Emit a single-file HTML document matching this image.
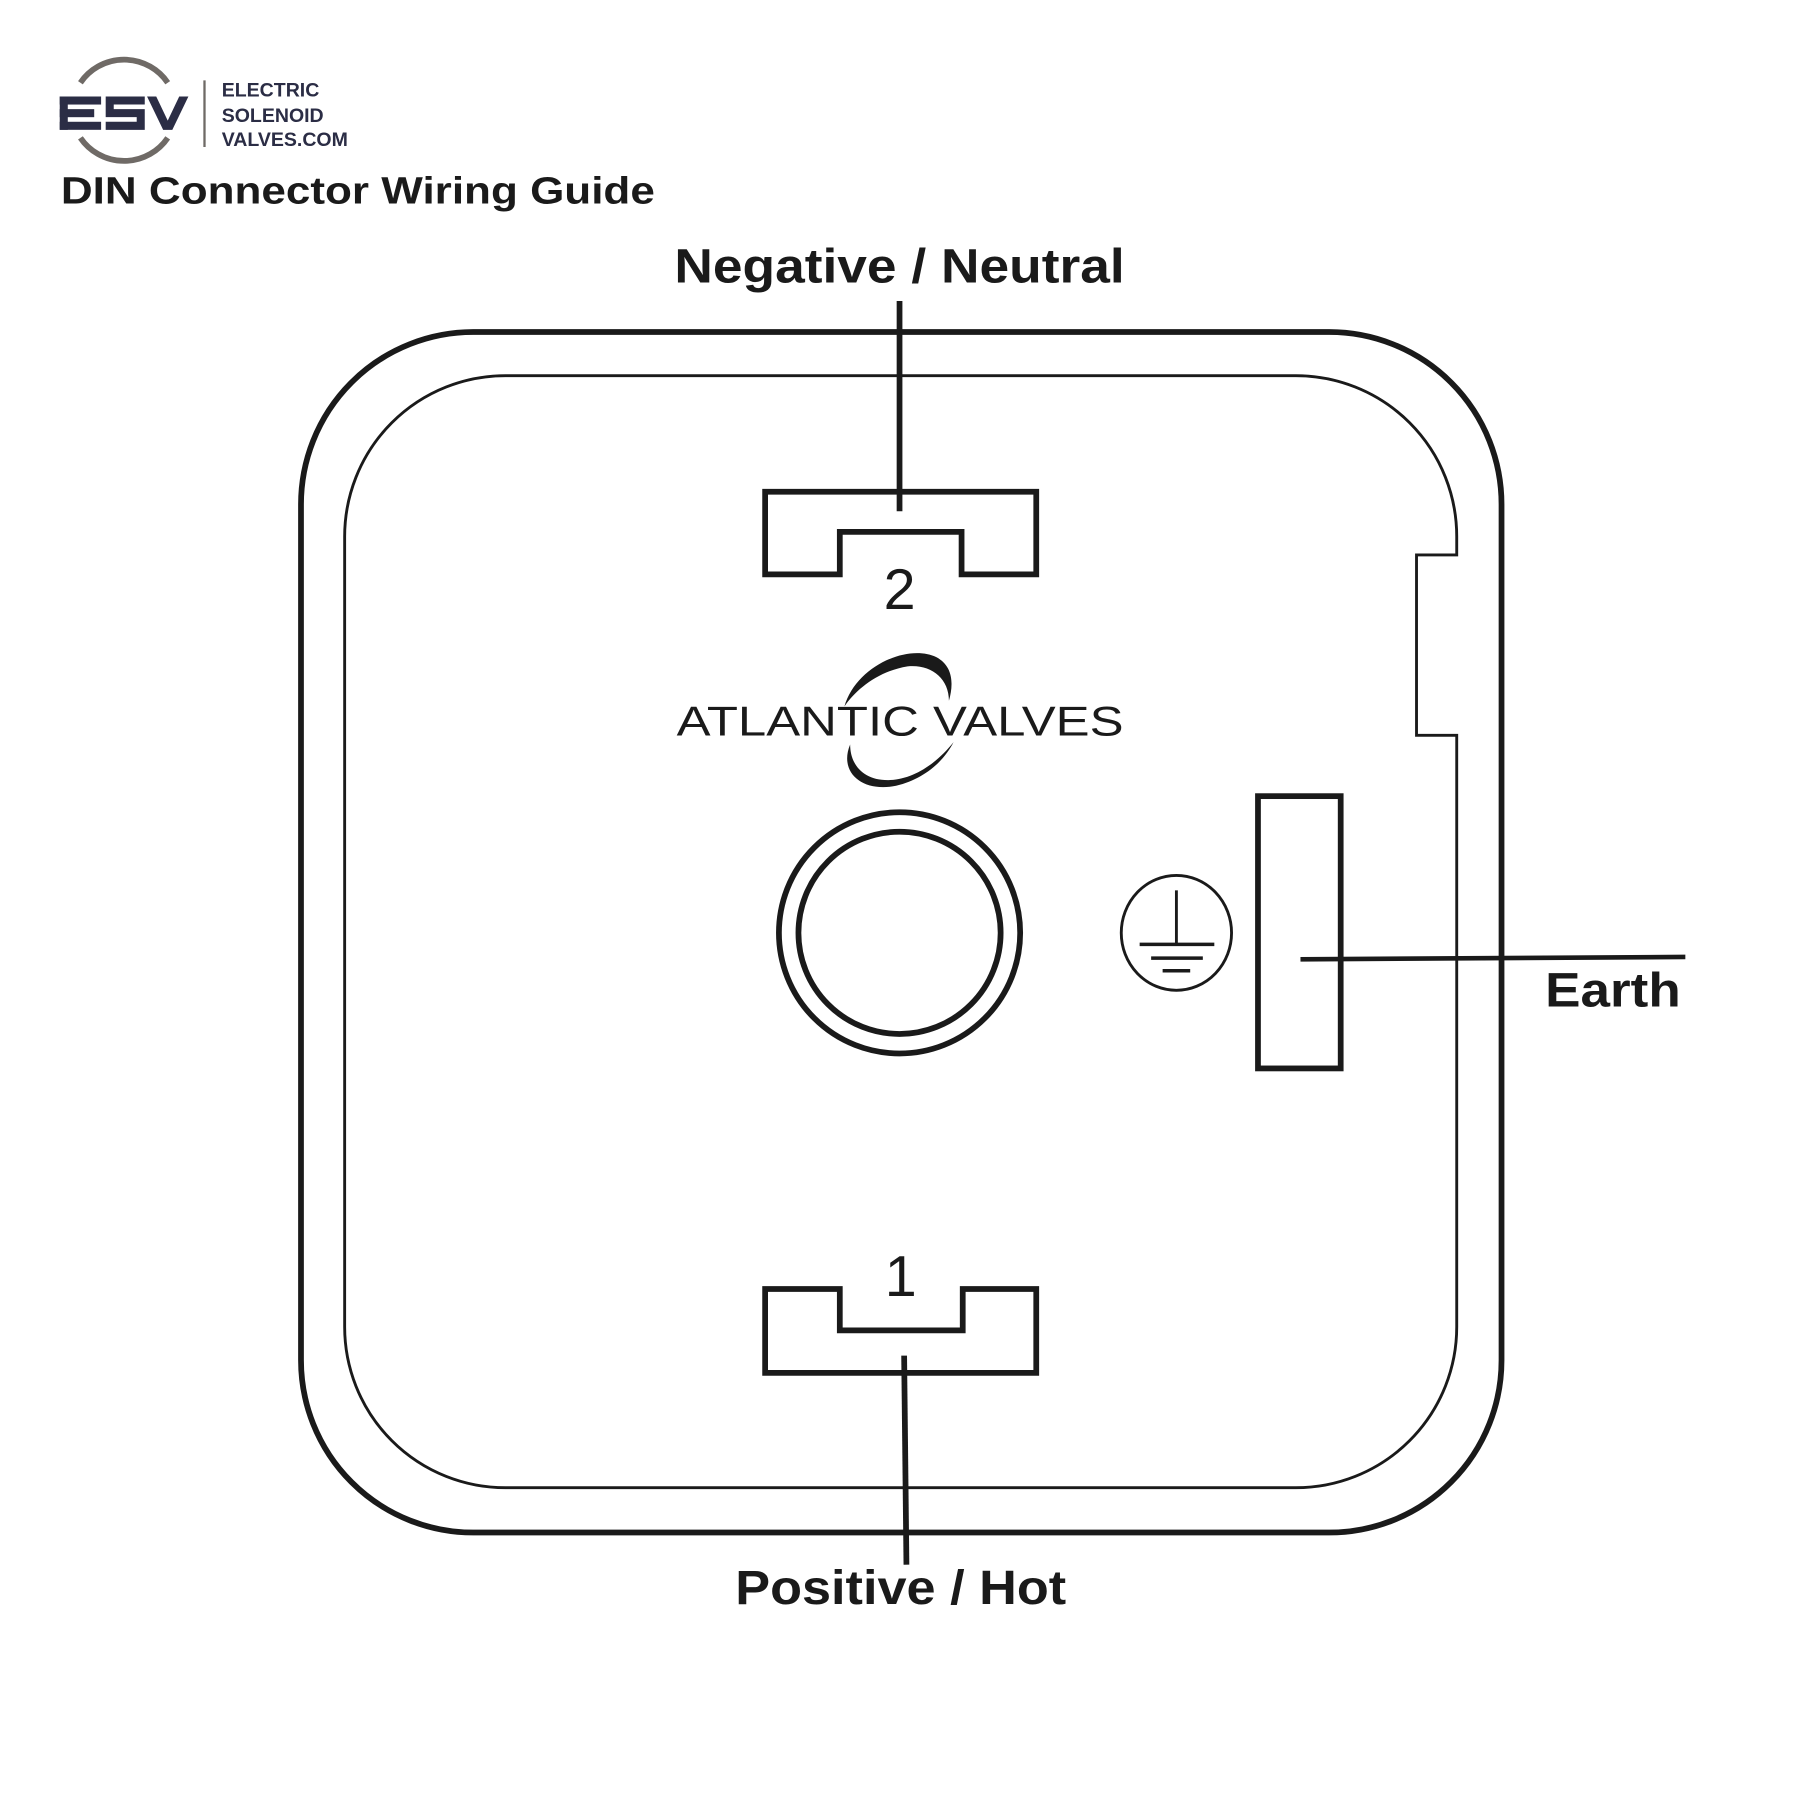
<!DOCTYPE html>
<html><head><meta charset="utf-8"><style>
html,body{margin:0;padding:0;background:#fff;}
svg{display:block;}
text{font-family:"Liberation Sans",sans-serif;}
</style></head><body>
<svg width="1800" height="1800" viewBox="0 0 1548 1548" xmlns="http://www.w3.org/2000/svg">
<rect width="1548" height="1548" fill="#fff"/>
<g transform="scale(0.988)">
<!-- ESV logo -->
<path d="M70,72 A46,46 0 0 1 146,72" fill="none" stroke="#6f6a66" stroke-width="5"/>
<path d="M70,120 A46,46 0 0 0 146,120" fill="none" stroke="#6f6a66" stroke-width="5"/>
<g fill="#2b2d45">
<rect x="52" y="84" width="36" height="7"/><rect x="52" y="95" width="30" height="7"/><rect x="52" y="106" width="36" height="7"/><rect x="52" y="84" width="7" height="29"/>
<path d="M92,84 H126 V91 H99 V95 H126 V113 H92 V106 H119 V102 H92 Z"/>
<path d="M128,84 H136 L146,105 L156,84 H164 L150,113 H142 Z"/>
</g>
<line x1="178" y1="70" x2="178" y2="128" stroke="#6f6a66" stroke-width="2"/>
<g fill="#2b2d45" font-size="17" font-weight="bold">
<text x="193" y="84">ELECTRIC</text>
<text x="193" y="106">SOLENOID</text>
<text x="193" y="127">VALVES.COM</text>
</g>
<text x="53" y="177" font-size="33" font-weight="bold" fill="#1a1a1a" textLength="517" lengthAdjust="spacingAndGlyphs">DIN Connector Wiring Guide</text>

<!-- outer body -->
<rect x="262" y="289" width="1045" height="1045" rx="150" fill="none" stroke="#1a1a1a" stroke-width="5"/>
<path d="M440,327 H1128 A140,140 0 0 1 1268,467 V483 H1233 V640 H1268 V1155 A140,140 0 0 1 1128,1295 H440 A140,140 0 0 1 300,1155 V467 A140,140 0 0 1 440,327 Z" fill="none" stroke="#1a1a1a" stroke-width="2.5"/>

<!-- top pin -->
<path d="M666,428 H902 V500 H837 V463 H731 V500 H666 Z" fill="none" stroke="#1a1a1a" stroke-width="5"/>
<line x1="783" y1="262" x2="783" y2="445" stroke="#1a1a1a" stroke-width="5"/>
<text x="783" y="530" font-size="50" text-anchor="middle" fill="#1a1a1a">2</text>
<text x="783" y="246" font-size="42" font-weight="bold" text-anchor="middle" fill="#1a1a1a" textLength="392" lengthAdjust="spacingAndGlyphs">Negative / Neutral</text>

<!-- bottom pin -->
<path d="M666,1122 H731 V1158 H838 V1122 H902 V1195 H666 Z" fill="none" stroke="#1a1a1a" stroke-width="5"/>
<line x1="787" y1="1180" x2="789" y2="1362" stroke="#1a1a1a" stroke-width="5"/>
<text x="784" y="1128" font-size="50" text-anchor="middle" fill="#1a1a1a">1</text>
<text x="784" y="1396" font-size="42" font-weight="bold" text-anchor="middle" fill="#1a1a1a" textLength="288" lengthAdjust="spacingAndGlyphs">Positive / Hot</text>

<!-- Atlantic Valves -->
<path d="M735,615 C745,580 790,560 815,572 C830,580 830,596 826,610 C826,590 810,578 790,580 C765,584 745,600 735,615 Z" fill="#1a1a1a"/>
<path d="M740,648 C730,672 750,690 780,684 C805,678 822,662 830,646 C815,665 795,678 775,679 C752,680 740,666 740,648 Z" fill="#1a1a1a"/>
<text x="589" y="640" font-size="36" fill="#1a1a1a" textLength="389" lengthAdjust="spacingAndGlyphs">ATLANTIC VALVES</text>

<!-- center hole -->
<circle cx="783" cy="812" r="105" fill="none" stroke="#1a1a1a" stroke-width="5"/>
<circle cx="783" cy="812" r="88" fill="none" stroke="#1a1a1a" stroke-width="5"/>

<!-- earth -->
<rect x="1095" y="693" width="72" height="237" fill="none" stroke="#1a1a1a" stroke-width="5"/>
<line x1="1132" y1="835" x2="1467" y2="833" stroke="#1a1a1a" stroke-width="4"/>
<ellipse cx="1024" cy="812" rx="48" ry="50" fill="none" stroke="#1a1a1a" stroke-width="2.5"/>
<line x1="1024" y1="775" x2="1024" y2="822" stroke="#1a1a1a" stroke-width="2.5"/>
<line x1="992" y1="822" x2="1057" y2="822" stroke="#1a1a1a" stroke-width="3"/>
<line x1="1002" y1="834" x2="1047" y2="834" stroke="#1a1a1a" stroke-width="3"/>
<line x1="1012" y1="845" x2="1036" y2="845" stroke="#1a1a1a" stroke-width="3"/>
<text x="1463" y="876" font-size="42" font-weight="bold" text-anchor="end" fill="#1a1a1a" textLength="118" lengthAdjust="spacingAndGlyphs">Earth</text>
</g>
</svg>
</body></html>
